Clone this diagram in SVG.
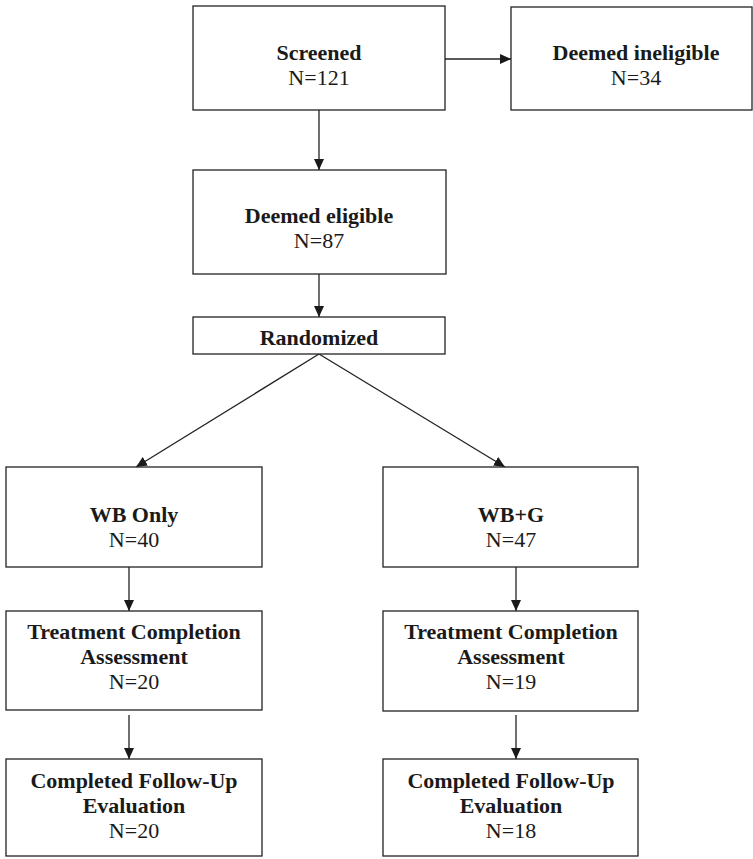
<svg xmlns="http://www.w3.org/2000/svg" width="753" height="859" viewBox="0 0 753 859">
  <style>
    .box { fill: #ffffff; stroke: #222222; stroke-width: 1.3; }
    .t { font-family: "Liberation Serif", "Times New Roman", serif; font-size: 22px; fill: #1a1a1a; text-anchor: middle; }
    .b { font-weight: bold; }
    .c { fill: none; stroke: #222222; stroke-width: 1.3; marker-end: url(#arr); }
  </style>
  <defs>
    <marker id="arr" viewBox="0 0 11 10" refX="11" refY="5" markerWidth="11" markerHeight="10" markerUnits="userSpaceOnUse" orient="auto">
      <path d="M0,0 L11,5 L0,10 z" fill="#1a1a1a"/>
    </marker>
  </defs>
  <rect width="753" height="859" fill="#ffffff"/>

  <g id="connectors">
    <line class="c" x1="445" y1="59" x2="511" y2="59"/>
    <line class="c" x1="319" y1="110" x2="319" y2="170"/>
    <line class="c" x1="319" y1="274" x2="319" y2="317"/>
    <line class="c" x1="319" y1="354" x2="136" y2="467"/>
    <line class="c" x1="319" y1="354" x2="505" y2="467"/>
    <line class="c" x1="129" y1="567" x2="129" y2="611"/>
    <line class="c" x1="129" y1="715" x2="129" y2="759"/>
    <line class="c" x1="516" y1="567" x2="516" y2="611"/>
    <line class="c" x1="516" y1="715" x2="516" y2="759"/>
  </g>

  <g id="screened">
    <rect class="box" x="193" y="6" width="252" height="104"/>
    <text class="t b" x="319" y="60">Screened</text>
    <text class="t" x="319" y="85">N=121</text>
  </g>

  <g id="ineligible">
    <rect class="box" x="511" y="7" width="241" height="103"/>
    <text class="t b" x="636" y="60">Deemed ineligible</text>
    <text class="t" x="636" y="85">N=34</text>
  </g>

  <g id="eligible">
    <rect class="box" x="193" y="170" width="253" height="104"/>
    <text class="t b" x="319" y="223">Deemed eligible</text>
    <text class="t" x="319" y="248">N=87</text>
  </g>

  <g id="randomized">
    <rect class="box" x="193" y="317" width="252" height="37"/>
    <text class="t b" x="319" y="345">Randomized</text>
  </g>

  <g id="wb-only">
    <rect class="box" x="6" y="467" width="256" height="100"/>
    <text class="t b" x="134" y="522">WB Only</text>
    <text class="t" x="134" y="547">N=40</text>
  </g>

  <g id="wb-g">
    <rect class="box" x="383" y="467" width="255" height="100"/>
    <text class="t b" x="511" y="522">WB+G</text>
    <text class="t" x="511" y="547">N=47</text>
  </g>

  <g id="tca-left">
    <rect class="box" x="6" y="611" width="256" height="99"/>
    <text class="t b" x="134" y="639">Treatment Completion</text>
    <text class="t b" x="134" y="664">Assessment</text>
    <text class="t" x="134" y="689">N=20</text>
  </g>

  <g id="tca-right">
    <rect class="box" x="383" y="611" width="255" height="100"/>
    <text class="t b" x="511" y="639">Treatment Completion</text>
    <text class="t b" x="511" y="664">Assessment</text>
    <text class="t" x="511" y="689">N=19</text>
  </g>

  <g id="cfu-left">
    <rect class="box" x="6" y="759" width="256" height="97"/>
    <text class="t b" x="134" y="788">Completed Follow-Up</text>
    <text class="t b" x="134" y="813">Evaluation</text>
    <text class="t" x="134" y="838">N=20</text>
  </g>

  <g id="cfu-right">
    <rect class="box" x="383" y="759" width="255" height="97"/>
    <text class="t b" x="511" y="788">Completed Follow-Up</text>
    <text class="t b" x="511" y="813">Evaluation</text>
    <text class="t" x="511" y="838">N=18</text>
  </g>
</svg>
